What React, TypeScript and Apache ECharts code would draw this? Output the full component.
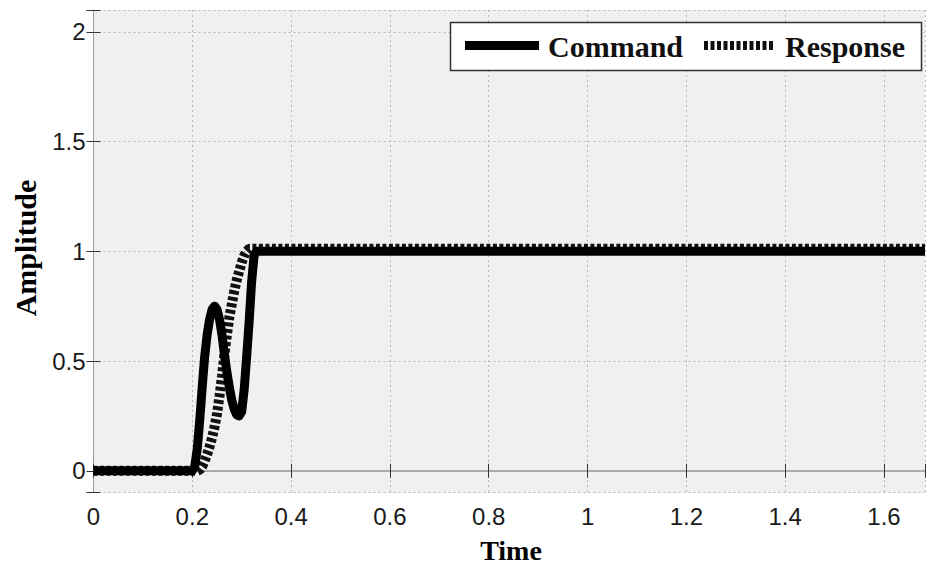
import React, { useEffect, useRef } from "react";
import * as echarts from "echarts";

// ---- data ----
const commandTime = [0, 0.2, 0.205, 0.21, 0.215, 0.22, 0.225, 0.23, 0.235, 0.24, 0.245, 0.25, 0.255, 0.26, 0.265, 0.27, 0.275, 0.28, 0.285, 0.29, 0.295, 0.3, 0.305, 0.31, 0.315, 0.32, 0.325, 0.33, 1.683];
const commandAmp = [0, 0, 0.02, 0.1, 0.23, 0.38, 0.52, 0.62, 0.69, 0.735, 0.75, 0.735, 0.69, 0.62, 0.53, 0.45, 0.38, 0.32, 0.28, 0.255, 0.25, 0.27, 0.37, 0.52, 0.68, 0.86, 0.98, 1, 1];

const responseTime = [0, 0.21, 0.215, 0.22, 0.225, 0.23, 0.235, 0.24, 0.245, 0.25, 0.255, 0.26, 0.265, 0.27, 0.275, 0.28, 0.285, 0.29, 0.295, 0.3, 0.305, 0.31, 0.315, 1.683];
const responseAmp = [0, 0, 0.005, 0.02, 0.045, 0.075, 0.11, 0.15, 0.2, 0.26, 0.34, 0.43, 0.53, 0.62, 0.7, 0.76, 0.82, 0.87, 0.91, 0.95, 0.98, 1.0, 1.012, 1.012];

const seriesNames = ["Command", "Response"];
const xTitle = "Time";
const yTitle = "Amplitude";

const X_MIN = 0;
const X_MAX = 1.683;
const X_STEP = 0.2;
const Y_MIN = -0.1;
const Y_MAX = 2.1;

const SERIF = '"Liberation Serif", "Times New Roman", serif';
const SANS = '"Liberation Sans", Arial, sans-serif';

export default function App() {
  const ref = useRef<HTMLDivElement>(null);

  useEffect(() => {
    if (!ref.current) return;
    const chart = echarts.init(ref.current, undefined, { renderer: "svg" });

    const cmdData = commandTime.map((t, i) => [t, commandAmp[i]]);
    const resData = responseTime.map((t, i) => [t, responseAmp[i]]);

    const gridLine = { show: true, lineStyle: { color: "#b8b8b8", width: 1, type: [2, 3] as any } };
    const tick = { show: true, inside: true, length: 7, lineStyle: { color: "#333", width: 1 } };

    const xLabelFmt = (v: number) => (v > X_MAX - 0.02 ? "" : String(Math.round(v * 10) / 10));
    const yLabelFmt = (v: number) => {
      const r = Math.round(v * 2) / 2;
      return Math.abs(r - v) < 1e-6 ? String(r) : "";
    };

    const option: any = {
      animation: false,
      backgroundColor: "#ffffff",
      grid: {
        left: 93.5,
        right: 1,
        top: 10,
        bottom: 72.3,
        show: true,
        backgroundColor: "#f0f0f0",
        borderWidth: 0,
      },
      xAxis: [
        {
          type: "value",
          position: "bottom",
          min: X_MIN,
          max: X_MAX,
          interval: X_STEP,
          axisLine: { show: true, lineStyle: { color: "#cfcfcf", width: 1 } },
          axisTick: tick,
          axisLabel: { show: true, margin: 12, fontSize: 24, fontFamily: SANS, color: "#1a1a1a", formatter: xLabelFmt },
          splitLine: gridLine,
        },
        {
          type: "value",
          position: "top",
          min: X_MIN,
          max: X_MAX,
          interval: X_STEP,
          axisLine: { show: true, lineStyle: { color: "#9a9a9a", width: 1.5 } },
          axisTick: tick,
          axisLabel: { show: false },
          splitLine: { show: false },
        },
      ],
      yAxis: [
        {
          type: "value",
          position: "left",
          min: Y_MIN,
          max: Y_MAX,
          splitNumber: 5,
          axisLine: { show: true, lineStyle: { color: "#dcdcdc", width: 1 } },
          axisTick: tick,
          axisLabel: { show: true, margin: 8, fontSize: 24, fontFamily: SANS, color: "#1a1a1a", formatter: yLabelFmt },
          splitLine: gridLine,
        },
        {
          type: "value",
          position: "right",
          min: Y_MIN,
          max: Y_MAX,
          splitNumber: 5,
          axisLine: { show: true, lineStyle: { color: "#9a9a9a", width: 1 } },
          axisTick: tick,
          axisLabel: { show: false },
          splitLine: { show: false },
        },
      ],
      series: [
        {
          name: seriesNames[1],
          type: "line",
          xAxisIndex: 0,
          yAxisIndex: 0,
          data: resData,
          symbol: "none",
          showSymbol: false,
          z: 2,
          lineStyle: { color: "#111", width: 10, type: [4, 2.5], cap: "butt" },
        },
        {
          name: seriesNames[0],
          type: "line",
          xAxisIndex: 0,
          yAxisIndex: 0,
          data: cmdData,
          symbol: "none",
          showSymbol: false,
          z: 3,
          lineStyle: { color: "#000", width: 9, join: "round" },
        },
      ],
      graphic: [
        {
          type: "text",
          x: 511,
          y: 550,
          style: { text: xTitle, font: `bold 28px ${SERIF}`, fill: "#000", align: "center", verticalAlign: "middle" },
        },
        {
          type: "text",
          x: 25,
          y: 248,
          rotation: Math.PI / 2,
          style: { text: yTitle, font: `bold 30px ${SERIF}`, fill: "#000", align: "center", verticalAlign: "middle" },
        },
        {
          type: "rect",
          shape: { x: 450.5, y: 22.5, width: 471, height: 48 },
          style: { fill: "#ffffff", stroke: "#333", lineWidth: 1.5 },
          z: 10,
        },
        {
          type: "line",
          shape: { x1: 465, y1: 45.5, x2: 539, y2: 45.5 },
          style: { stroke: "#000", lineWidth: 9 },
          z: 11,
        },
        {
          type: "text",
          x: 548,
          y: 46.5,
          style: { text: seriesNames[0], font: `bold 30px ${SERIF}`, fill: "#111", align: "left", verticalAlign: "middle" },
          z: 11,
        },
        {
          type: "line",
          shape: { x1: 704, y1: 45.5, x2: 773, y2: 45.5 },
          style: { stroke: "#111", lineWidth: 9, lineDash: [4, 2.5] },
          z: 11,
        },
        {
          type: "text",
          x: 785,
          y: 46.5,
          style: { text: seriesNames[1], font: `bold 30px ${SERIF}`, fill: "#111", align: "left", verticalAlign: "middle" },
          z: 11,
        },
      ],
    };

    chart.setOption(option);
    return () => chart.dispose();
  }, []);

  return (
    <div
      ref={ref}
      style={{ position: "absolute", left: 0, top: 0, width: 928, height: 565 }}
    />
  );
}
